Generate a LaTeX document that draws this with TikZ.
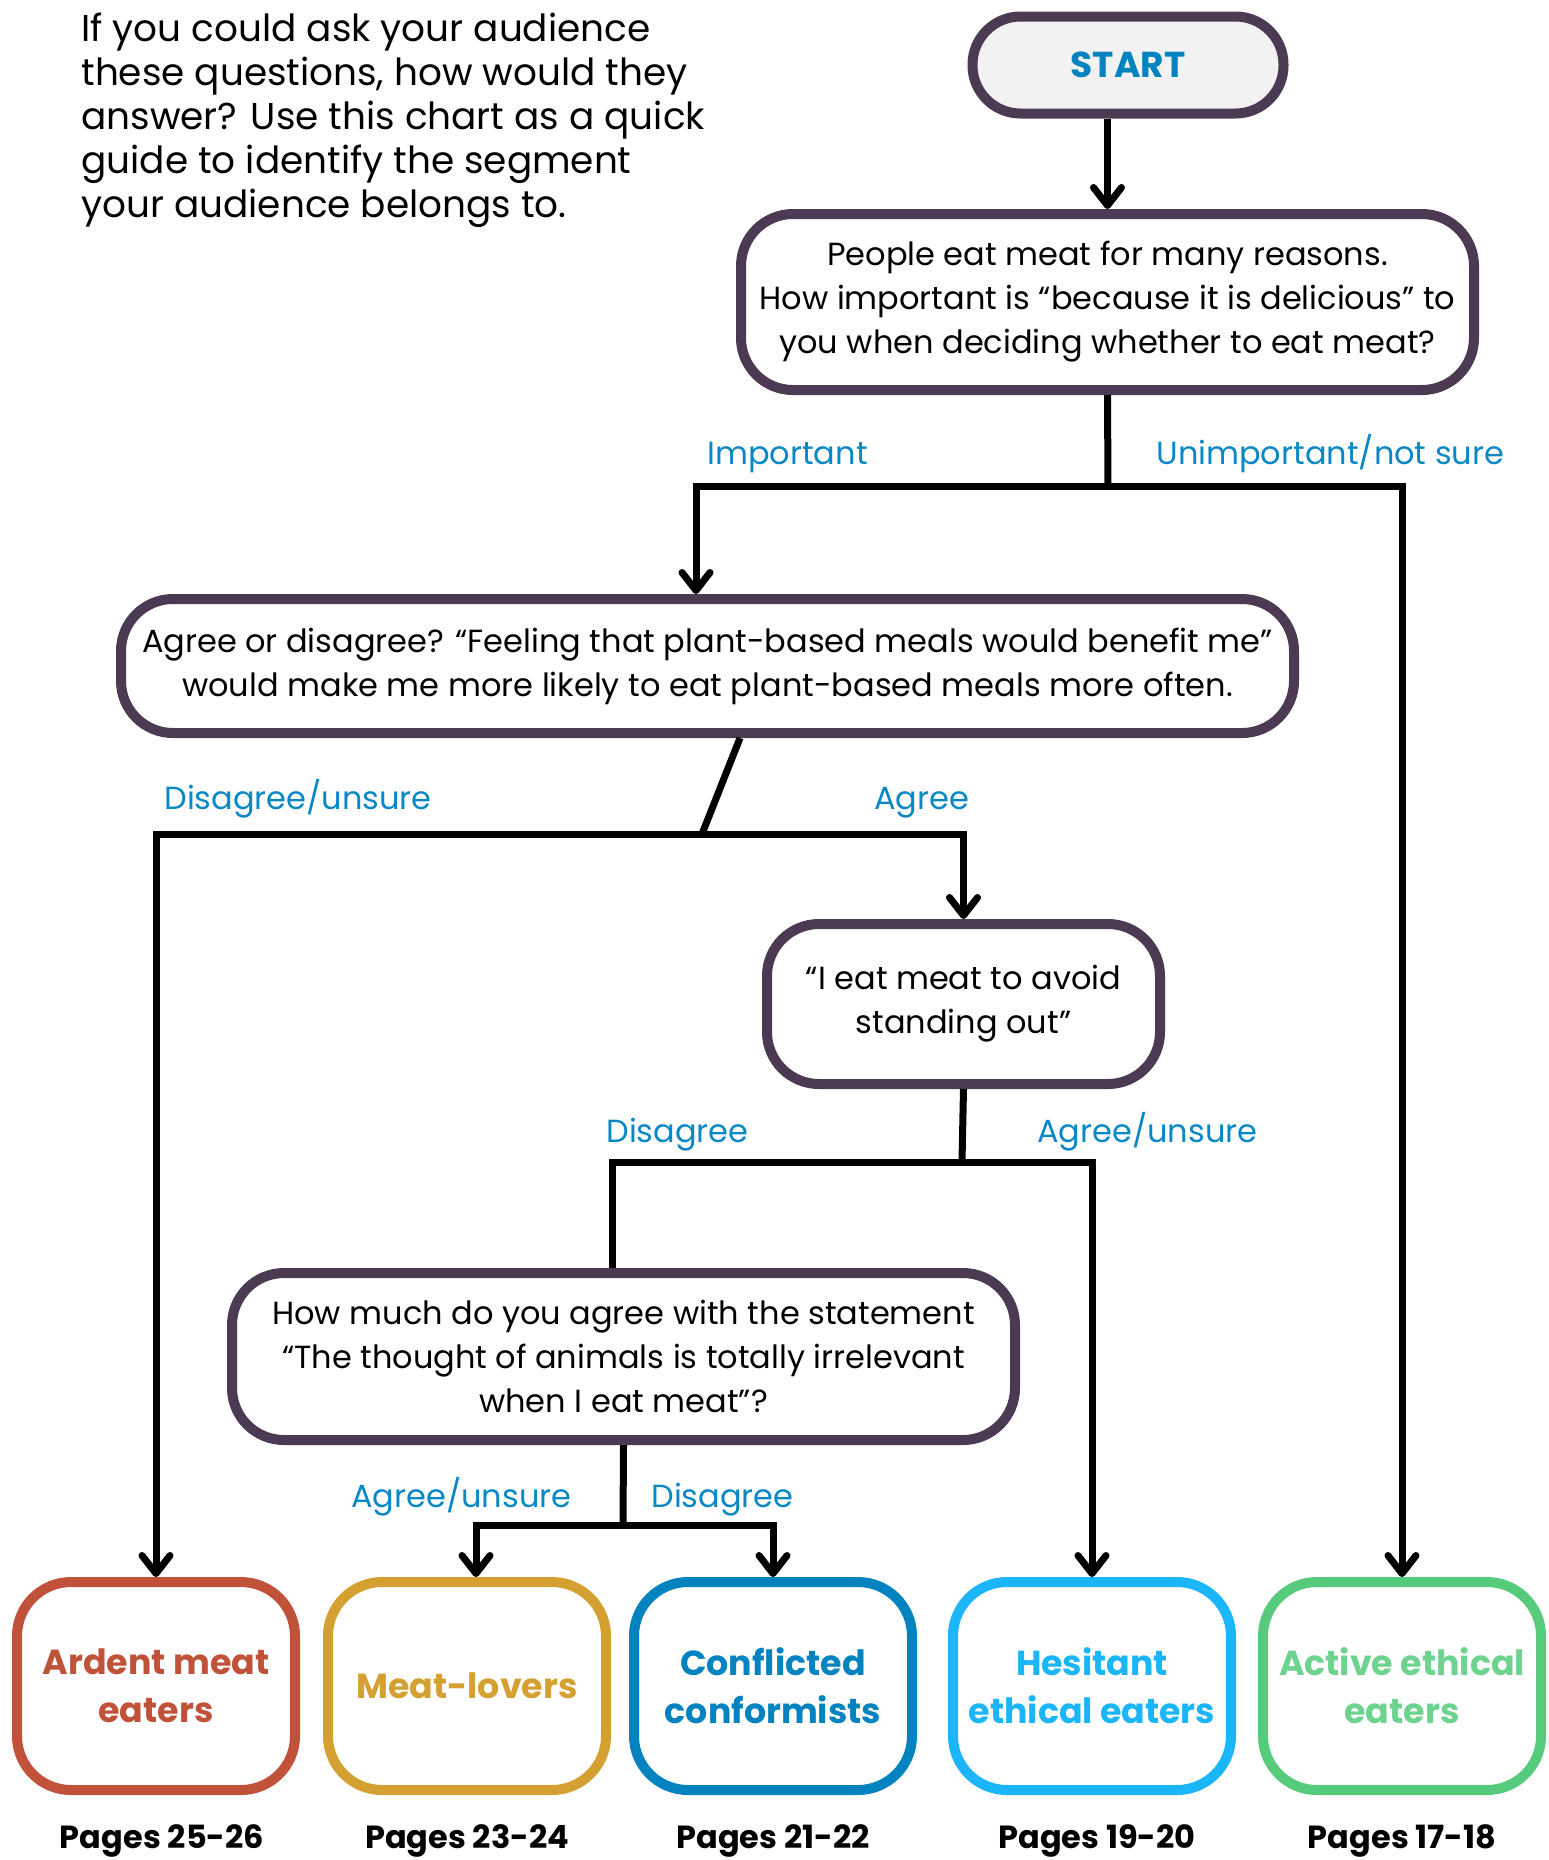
\documentclass[tikz,border=0pt]{standalone}
\usepackage{fontspec}
\setmainfont{Poppins}
\usetikzlibrary{arrows.meta,positioning}

\definecolor{qframe}{HTML}{4B3A51}
\definecolor{startfill}{HTML}{F2F2F2}
\definecolor{ansblue}{HTML}{0A88C6}
\definecolor{ardred}{HTML}{C0523A}
\definecolor{lovgold}{HTML}{D5A032}
\definecolor{conblue}{HTML}{0083BF}
\definecolor{hesblue}{HTML}{1BB5FA}
\definecolor{actgreen}{HTML}{55CB7B}

\begin{document}
\begin{tikzpicture}[x=0.5pt, y=-0.5pt,
    every node/.style={font=\fontsize{16}{22}\selectfont},
    qbox/.style={draw=qframe, line width=5pt, rounded corners=26pt, fill=white, align=center, inner sep=0pt},
    outbox/.style={draw=#1, text=#1, line width=5pt, rounded corners=27pt, fill=white,
        minimum width=139pt, minimum height=104pt, align=center, inner sep=0pt,
        font=\fontsize{17.4}{24}\selectfont\bfseries},
    ans/.style={text=ansblue, anchor=base west, inner sep=0pt},
    pages/.style={font=\fontsize{16}{20}\selectfont\bfseries, inner sep=0pt},
    conn/.style={line width=3.5pt},
    arr/.style={conn, -{Straight Barb[length=9pt,width=14pt,round]}}]
        \useasboundingbox (0,0) rectangle (1549,1860);

        % Intro
        \node[anchor=north west, align=left, inner sep=0pt, font=\fontsize{18.7}{22}\selectfont] (intro) at (81,13)
            {If you could ask your audience\\these questions, how would they\\answer? Use this chart as a quick\\guide to identify the segment\\your audience belongs to.};

        % Questions
        \node[qbox, fill=startfill, rounded corners=24pt, minimum width=155.5pt, minimum height=48.5pt,
            text=conblue, font=\fontsize{18}{22}\selectfont\bfseries] (start) at (1128,65) {START};
        \node[qbox, minimum width=366.5pt, minimum height=88pt] (q1) at (1107.5,302)
            {People eat meat for many reasons.\\How important is “because it is delicious” to\\you when deciding whether to eat meat?};
        \node[qbox, minimum width=586.5pt, minimum height=67pt] (q2) at (707.5,666)
            {Agree or disagree? “Feeling that plant-based meals would benefit me”\\would make me more likely to eat plant-based meals more often.};
        \node[qbox, minimum width=196.5pt, minimum height=80pt] (q3) at (963.5,1004)
            {“I eat meat to avoid\\standing out”};
        \node[qbox, minimum width=391.5pt, minimum height=83.5pt] (q4) at (623.5,1356.5)
            {How much do you agree with the statement\\“The thought of animals is totally irrelevant\\when I eat meat”?};

        % Segments
        \node[outbox=ardred] (ard) at (156,1686) {Ardent meat\\eaters};
        \node[outbox=lovgold] (lov) at (467,1686) {Meat-lovers};
        \node[outbox=conblue] (con) at (773,1686) {Conflicted\\conformists};
        \node[outbox=hesblue] (hes) at (1092,1686) {Hesitant\\ethical eaters};
        \node[outbox=actgreen, text=actgreen!85!white] (act) at (1402,1686) {Active ethical\\eaters};

        \node[pages] (pard) at (162,1841) {Pages 25-26};
        \node[pages] (plov) at (467,1841) {Pages 23-24};
        \node[pages] (pcon) at (773,1841) {Pages 21-22};
        \node[pages] (phes) at (1097,1841) {Pages 19-20};
        \node[pages] (pact) at (1402,1841) {Pages 17-18};

        % Junctions
        \coordinate (jq1) at (1108,486);
        \coordinate (jimp) at (696,486);
        \coordinate (q2out) at (740,738);
        \coordinate (jq2) at (702,834);
        \coordinate (jq3) at (962,1162);
        \coordinate (jdis) at (612,1162);
        \coordinate (jq4) at (623,1525);
        \coordinate (jagr) at (476,1525);

        % Connectors
        \draw[arr] (start.south -| q1.north) -- (q1.north);
        \draw[conn] (q1.south) -- (jq1);
        \draw[arr] (jq1) -| (jimp |- q2.north);
        \draw[arr] (jq1) -| (act.north);
        \draw[conn] (q2out) -- (jq2);
        \draw[arr] (jq2) -| (ard.north);
        \draw[arr] (jq2) -| (q3.north);
        \draw[conn] (q3.south) -- (jq3);
        \draw[conn] (jq3) -| (jdis |- q4.north);
        \draw[arr] (jq3) -| (hes.north);
        \draw[conn] (q4.south) -- (jq4);
        \draw[arr] (jq4) -| (jagr |- lov.north);
        \draw[arr] (jq4) -| (con.north);

        % Answers
        \node[ans] (aimp) at (707,464) {Important};
        \node[ans] (auni) at (1156,464) {Unimportant/not sure};
        \node[ans] (adis) at (164,809) {Disagree/unsure};
        \node[ans] (aagr) at (874,809) {Agree};
        \node[ans] (bdis) at (606,1142) {Disagree};
        \node[ans] (bagr) at (1037,1142) {Agree/unsure};
        \node[ans] (cagr) at (351,1507) {Agree/unsure};
        \node[ans] (cdis) at (651,1507) {Disagree};
\end{tikzpicture}
\end{document}
